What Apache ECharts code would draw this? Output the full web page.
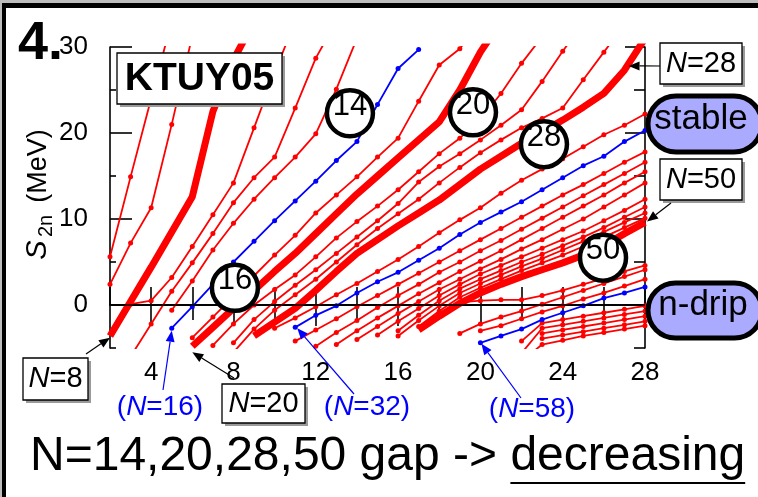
<!DOCTYPE html>
<html>
<head>
<meta charset="utf-8">
<script src="https://cdn.jsdelivr.net/npm/echarts@6/dist/echarts.min.js"></script>
<style>
  html, body { margin: 0; padding: 0; background: #fff; }
  #main { width: 758px; height: 497px; }
</style>
</head>
<body>
<div id="main"></div>
<script>
// Two-neutron separation energies S2n (MeV) of the KTUY05 mass formula,
// one isotonic chain per neutron number N, plotted against proton number Z.
const _ = null;
const gap = n => Array(n).fill(null);

const protonZ = [2,3,4,5,6,7,8,9,10,11,12,13,14,15,16,17,18,19,20,21,22,23,24,25,26,27,28];

const N04 = [5.6, 14.9, 24.0, 33.0, ...gap(23)];
const N06 = [2.4, 7.2, 11.3, 21.0, 31.3, ...gap(22)];
const N08 = [-3.6, 0.4, 4.4, 8.5, 12.6, 22.5, 28.5, 33.0, ...gap(19)];
const N10 = [_, 0.1, 0.5, 3.2, 6.8, 10.5, 14.2, 20.6, 27.0, 33.0, ...gap(17)];
const N12 = [_, -6.0, -2.2, 1.6, 4.9, 8.3, 11.9, 14.8, 17.2, 22.9, 28.7, 33.0, ...gap(15)];
const N14 = [...gap(3), -0.6, 2.8, 6.4, 9.5, 12.3, 14.8, 17.2, 19.9, 25.1, 31.0, ...gap(14)];
const N16 = [...gap(3), -2.7, -0.2, 2.4, 5.0, 7.4, 9.8, 12.1, 14.4, 16.8, 19.0, 23.3, 27.5, 29.7, ...gap(11)];
const N18 = [...gap(4), -3.8, -1.4, 1.0, 3.4, 5.8, 8.1, 10.7, 12.8, 14.9, 17.2, 19.4, 23.7, 27.9, 29.8, 33.0, ...gap(8)];
const N20 = [...gap(4), -4.8, -2.6, -0.4, 1.7, 3.9, 6.0, 8.3, 10.6, 12.9, 15.0, 17.1, 19.2, 21.3, 25.0, 29.4, 33.0, ...gap(7)];
const N22 = [...gap(5), -4.7, -2.2, 0.0, 1.8, 3.5, 5.6, 7.8, 9.7, 11.5, 13.4, 15.5, 17.6, 19.4, 21.6, 24.6, 28.1, 31.2, ...gap(5)];
const N24 = [...gap(6), -4.4, -1.7, 0.4, 2.3, 4.1, 6.0, 7.9, 9.8, 11.8, 14.3, 16.1, 17.6, 19.2, 20.9, 22.7, 26.0, 29.5, 32.8, ...gap(3)];
const N26 = [...gap(6), -5.5, -2.8, -0.6, 1.2, 3.0, 5.0, 7.0, 8.9, 10.6, 12.3, 14.2, 16.0, 17.7, 19.2, 20.6, 21.7, 22.9, 26.2, 29.4, 32.6, _];
const N28 = [...gap(7), -3.6, -2.0, -0.4, 1.7, 3.9, 6.0, 7.6, 9.2, 10.7, 12.2, 14.0, 15.8, 17.3, 18.8, 20.1, 21.5, 23.0, 24.6, 27.3, 31.0];
const N30 = [...gap(8), -2.7, -1.5, -0.2, 1.2, 2.5, 3.9, 5.3, 6.8, 8.4, 9.9, 11.3, 13.0, 14.5, 15.8, 17.0, 18.4, 19.8, 20.9, 22.2];
const N32 = [...gap(9), -2.6, -1.2, -0.1, 1.4, 2.7, 3.8, 5.2, 6.6, 8.2, 9.6, 10.8, 12.0, 13.4, 14.8, 16.2, 17.3, 19.0, 20.3];
const N34 = [...gap(9), -4.2, -2.9, -1.6, -0.2, 1.1, 2.4, 3.7, 5.0, 6.3, 7.6, 8.9, 10.2, 11.5, 12.8, 14.0, 15.3, 16.6, 17.8];
const N36 = [...gap(10), -4.8, -3.2, -1.8, -0.3, 1.1, 2.4, 3.8, 5.0, 6.3, 7.5, 8.8, 10.1, 11.4, 12.7, 14.0, 15.3, 16.6];
const N38 = [...gap(11), -4.6, -3.0, -1.5, -0.1, 1.3, 2.6, 3.9, 5.1, 6.3, 7.6, 8.9, 10.2, 11.5, 12.8, 14.2, 15.5];
const N40 = [...gap(12), -4.0, -2.5, -1.0, 0.4, 1.8, 3.0, 4.2, 5.3, 6.5, 7.6, 8.8, 10.0, 11.4, 12.8, 14.2];
const N42 = [...gap(13), -3.5, -1.9, -0.4, 1.1, 2.4, 3.6, 4.6, 5.6, 6.6, 7.6, 8.6, 9.8, 11.0, 12.3];
const N44 = [...gap(14), -3.0, -1.2, 0.5, 1.9, 3.0, 4.0, 5.0, 5.9, 6.9, 7.9, 9.0, 10.2, 11.4];
const N46 = [...gap(14), -3.6, -1.8, -0.1, 1.4, 2.5, 3.5, 4.5, 5.4, 6.4, 7.4, 8.5, 9.6, 10.7];
const N48 = [...gap(15), -2.5, -0.7, 0.9, 2.0, 3.0, 4.0, 4.9, 5.8, 6.8, 7.9, 9.0, 10.1];
const N50 = [...gap(15), -2.9, -1.3, 0.2, 1.4, 2.4, 3.3, 4.1, 4.9, 5.8, 6.9, 8.3, 9.6];
const N52 = [...gap(16), -1.0, 0.3, 0.5, 0.6, 0.6, 1.1, 1.7, 2.4, 3.1, 3.9, 4.6];
const N54 = [...gap(17), -3.3, -2.2, -1.4, -0.7, 0.1, 0.9, 1.7, 2.5, 3.3, 4.1];
const N56 = [...gap(18), -3.0, -2.4, -1.6, -0.8, -0.1, 0.7, 1.4, 2.2, 3.0];
const N58 = [...gap(18), -4.4, -3.6, -2.8, -1.7, -0.9, -0.1, 0.8, 1.4, 2.1];
const N60 = [...gap(20), -4.2, -2.1, -1.7, -1.3, -0.9, -0.5, -0.1];
const N62 = [...gap(20), -5.6, -2.7, -2.3, -1.9, -1.5, -1.1, -0.7];
const N64 = [...gap(21), -3.3, -2.9, -2.5, -2.1, -1.7, -1.3];
const N66 = [...gap(21), -3.9, -3.5, -3.1, -2.7, -2.3, -1.9];
const N68 = [...gap(20), -6.5, -4.6, -4.1, -3.6, -3.2, -2.8, -2.4];

const thinChains = [N04, N06, N10, N12, N14, N18, N22, N24, N26, N30, N34, N36, N38, N40,
                    N42, N44, N46, N48, N52, N54, N56, N60, N62, N64, N66, N68];
const blueChains = [N16, N32, N58];
const magicChains = [N08, N20, N28, N50];

const xTickLabels = [4, 8, 12, 16, 20, 24, 28];
const yTickLabels = [0, 10, 20, 30];
const yMinorTicks = [-5, 5, 15, 25];
const xMinorTop = [6, 10, 14, 18, 22, 26];

const FONT = '"Liberation Sans", Arial, Helvetica, sans-serif';
const RED = '#ff0000', BLUE = '#0000ff';

const toPoints = vals => protonZ.map((z, i) => [z, vals[i]]).filter(p => p[1] !== null);

function chainSeries(vals, color, width, dots, z) {
  return {
    type: 'line', data: toPoints(vals), xAxisIndex: 0, yAxisIndex: 0,
    symbol: 'circle', symbolSize: dots ? 5 : 0, showSymbol: dots,
    lineStyle: { color, width }, itemStyle: { color },
    clip: true, silent: true, animation: false, z
  };
}

const chart = echarts.init(document.getElementById('main'));

const axisLineStyle = { color: '#000', width: 1.6 };
const tickStyle = { color: '#000', width: 1.6 };

const series = [
  {
    type: 'line', data: [], xAxisIndex: 0, yAxisIndex: 0, z: 1, silent: true,
    markLine: {
      silent: true, symbol: ['none', 'none'], animation: false,
      label: { show: false }, lineStyle: { color: '#000', width: 1.6, type: 'solid' },
      data: [{ yAxis: 0 }]
    }
  },
  ...thinChains.map(v => chainSeries(v, RED, 1.8, true, 2)),
  ...blueChains.map(v => chainSeries(v, BLUE, 1.8, true, 3)),
  ...magicChains.map(v => chainSeries(v, RED, 7, false, 4))
];

chart.setOption({
  animation: false,
  backgroundColor: '#fff',
  grid: { left: 110, top: 47, right: 113, bottom: 149, containLabel: false },
  xAxis: [
    {
      type: 'value', min: 2, max: 28, interval: 2, position: 'bottom',
      axisLine: { lineStyle: axisLineStyle },
      axisTick: { inside: true, length: 18, lineStyle: tickStyle },
      axisLabel: {
        customValues: xTickLabels, color: '#000', fontSize: 26, fontFamily: FONT, margin: 12
      },
      splitLine: { show: false }
    },
    {
      type: 'value', min: 2, max: 28, interval: 2, position: 'top',
      axisLine: { lineStyle: axisLineStyle },
      axisTick: { inside: true, length: 21, customValues: xTickLabels, lineStyle: tickStyle },
      axisLabel: { show: false }, splitLine: { show: false }
    },
    {
      type: 'value', min: 2, max: 28, interval: 2, position: 'top',
      axisLine: { show: false },
      axisTick: { inside: true, length: 15, customValues: xMinorTop, lineStyle: tickStyle },
      axisLabel: { show: false }, splitLine: { show: false }
    }
  ],
  yAxis: [
    {
      type: 'value', min: -5, max: 30, interval: 5, position: 'left',
      axisLine: { show: true, lineStyle: axisLineStyle },
      axisTick: { show: true, inside: true, length: 22, customValues: yTickLabels, lineStyle: tickStyle },
      axisLabel: { customValues: yTickLabels, color: '#000', fontSize: 26, fontFamily: FONT, margin: 22 },
      splitLine: { show: false }
    },
    {
      type: 'value', min: -5, max: 30, interval: 5, position: 'left',
      axisLine: { show: false },
      axisTick: { show: true, inside: true, length: 6, customValues: yMinorTicks, lineStyle: tickStyle },
      axisLabel: { show: false }, splitLine: { show: false }
    },
    {
      type: 'value', min: -5, max: 30, interval: 5, position: 'right',
      axisLine: { show: true, lineStyle: axisLineStyle },
      axisTick: { show: true, inside: true, length: 20, customValues: yTickLabels, lineStyle: tickStyle },
      axisLabel: { show: false }, splitLine: { show: false }
    },
    {
      type: 'value', min: -5, max: 30, interval: 5, position: 'right',
      axisLine: { show: false },
      axisTick: { show: true, inside: true, length: 11, customValues: yMinorTicks, lineStyle: tickStyle },
      axisLabel: { show: false }, splitLine: { show: false }
    }
  ],
  series
});

// ---- annotations ----
const toPx = (z, s) => chart.convertToPixel({ seriesIndex: 1 }, [z, s]);

function txt(x, y, text, size, opts = {}) {
  const style = {
    text, fill: opts.fill || '#000',
    fontSize: size, fontFamily: FONT,
    fontWeight: opts.weight || 'normal', fontStyle: opts.italic ? 'italic' : 'normal',
    font: (opts.italic ? 'italic ' : '') + (opts.weight ? opts.weight + ' ' : '') + size + 'px ' + FONT,
    align: opts.align || 'center', textAlign: opts.align || 'center',
    verticalAlign: 'middle', textVerticalAlign: 'middle'
  };
  if (opts.rich) style.rich = opts.rich;
  return { type: 'text', x, y, z: 120, rotation: opts.rotation || 0, style };
}

function shadowBox(x, y, w, h) {
  return [
    { type: 'rect', z: 110, shape: { x: x + 3, y: y + 3, width: w, height: h }, style: { fill: '#9a9a9a' } },
    { type: 'rect', z: 111, shape: { x, y, width: w, height: h }, style: { fill: '#fff', stroke: '#000', lineWidth: 1.3 } }
  ];
}

function arrow(x1, y1, x2, y2, color, head = 11, half = 4.5) {
  const dx = x2 - x1, dy = y2 - y1, len = Math.hypot(dx, dy);
  const ux = dx / len, uy = dy / len;
  const bx = x2 - ux * head, by = y2 - uy * head;
  return [
    { type: 'line', z: 115, shape: { x1, y1, x2: bx, y2: by }, style: { stroke: color, lineWidth: 1.2 } },
    { type: 'polygon', z: 116, shape: { points: [[x2, y2], [bx - uy * half, by + ux * half], [bx + uy * half, by - ux * half]] }, style: { fill: color } }
  ];
}

function pill(x, y, w, h) {
  return { type: 'rect', z: 110, shape: { x, y, width: w, height: h, r: h / 2 },
           style: { fill: '#aaaaff', stroke: '#000', lineWidth: 5 } };
}

const richN = (size, color) => ({
  i: { font: 'italic ' + size + 'px ' + FONT, fontStyle: 'italic', fontSize: size, fontFamily: FONT, fill: color },
  r: { font: size + 'px ' + FONT, fontSize: size, fontFamily: FONT, fill: color }
});

// gap markers: circled neutron numbers
const gapMarks = [
  ['14', 13.66, 22.3], ['16', 8.07, 2.0], ['20', 19.64, 22.4], ['28', 23.09, 18.7], ['50', 25.96, 5.5]
];

const g = [];
// slide frame (top and left edges)
g.push({ type: 'rect', z: 130, shape: { x: 0, y: 0, width: 758, height: 3 }, style: { fill: '#bdbdbd' } });
g.push({ type: 'rect', z: 130, shape: { x: 0, y: 3, width: 758, height: 5 }, style: { fill: '#000' } });
g.push({ type: 'rect', z: 130, shape: { x: 0, y: 0, width: 2, height: 497 }, style: { fill: '#bdbdbd' } });
g.push({ type: 'rect', z: 130, shape: { x: 2, y: 3, width: 4, height: 494 }, style: { fill: '#000' } });

g.push(txt(18, 44, '4.', 54, { align: 'left', weight: 'bold' }));

// y-axis title S2n (MeV)
g.push(txt(38, 250, 'S', 29, { rotation: Math.PI / 2, italic: true }));
g.push(txt(46, 226, '2n', 20, { rotation: Math.PI / 2 }));
g.push(txt(39, 166, '(MeV)', 27, { rotation: Math.PI / 2 }));

// model label
g.push(...shadowBox(117, 53, 165, 51));
g.push(txt(199.5, 79, 'KTUY05', 39, { weight: 'bold' }));

// circled gaps
gapMarks.forEach(([label, z, s]) => {
  const [cx, cy] = toPx(z, s);
  g.push({ type: 'circle', z: 112, shape: { cx, cy, r: 23 }, style: { fill: '#fff', stroke: '#000', lineWidth: 4.5 } });
  g.push(txt(cx, cy - 7, label, 31));
});

// boxed neutron numbers with arrows
function nBox(x, y, w, h, num) {
  g.push(...shadowBox(x, y, w, h));
  g.push(txt(x + w / 2, y + h / 2, '{i|N}{r|=' + num + '}', 29, { rich: richN(29, '#000') }));
}
nBox(660, 43, 82, 41, '28');
nBox(660, 159, 82, 41, '50');
nBox(23, 358, 65, 42, '8');
nBox(222, 384, 83, 39, '20');

let p;
p = toPx(27.2, 27.8); g.push(...arrow(660, 66, p[0], p[1], '#000'));
p = toPx(28.1, 9.7);  g.push(...arrow(671, 203, p[0], p[1], '#000'));
p = toPx(2.0, -3.8);  g.push(...arrow(86, 354, p[0], p[1], '#000'));
p = toPx(6.0, -5.5);  g.push(...arrow(234, 378, p[0], p[1], '#000'));

// blue chain labels
p = toPx(5.0, -3.0);  g.push(...arrow(163, 390, p[0], p[1], BLUE));
p = toPx(11.1, -2.7); g.push(...arrow(354, 394, p[0], p[1], BLUE));
p = toPx(20.05, -4.5); g.push(...arrow(521, 398, p[0], p[1], BLUE));
g.push(txt(160, 407, '{r|(}{i|N}{r|=16)}', 28, { fill: BLUE, rich: richN(28, BLUE) }));
g.push(txt(367, 407, '{r|(}{i|N}{r|=32)}', 28, { fill: BLUE, rich: richN(28, BLUE) }));
g.push(txt(532, 409, '{r|(}{i|N}{r|=58)}', 28, { fill: BLUE, rich: richN(28, BLUE) }));

// stability / drip-line tags
g.push(pill(648, 96, 114, 56));
g.push(txt(701, 119, 'stable', 35));
g.push(pill(648, 283, 114, 55));
g.push(txt(703, 305, 'n-drip', 35));

// headline
const headSize = 48;
const ctx = document.createElement('canvas').getContext('2d');
ctx.font = headSize + 'px ' + FONT;
const lead = 'N=14,20,28,50 gap -> ';
const tail = 'decreasing';
const x0 = 30;
const wLead = ctx.measureText(lead).width;
const wTail = ctx.measureText(tail).width;
g.push(txt(x0, 457, lead, headSize, { align: 'left' }));
g.push(txt(x0 + wLead, 457, tail, headSize, { align: 'left' }));
g.push({ type: 'line', z: 120, shape: { x1: x0 + wLead, y1: 483, x2: x0 + wLead + wTail, y2: 483 }, style: { stroke: '#000', lineWidth: 2 } });

chart.setOption({ graphic: g });
</script>
</body>
</html>
